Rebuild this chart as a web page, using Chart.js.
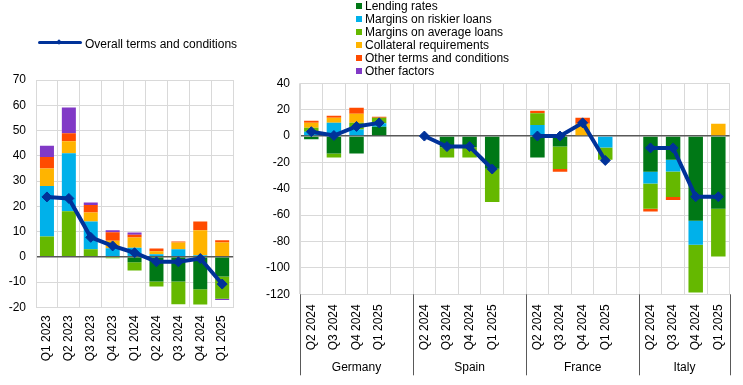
<!DOCTYPE html>
<html>
<head>
<meta charset="utf-8">
<script src="https://cdn.jsdelivr.net/npm/chart.js@4.4.1/dist/chart.umd.min.js"></script>
<style>
  body { margin: 0; background: #fff; font-family: "Liberation Sans", Arial, sans-serif; }
  #wrap { position: relative; width: 743px; height: 385px; overflow: hidden; }
  #leftChart { position: absolute; left: 0; top: 0; }
  #rightChart { position: absolute; left: 245px; top: 0; }
  .key { position: absolute; left: 356px; font-size: 12px; line-height: 13px; color: #000; white-space: nowrap; }
  .key i { display: inline-block; width: 6px; height: 6px; margin-right: 3px; vertical-align: 1px; }
  #lineKey { position: absolute; left: 38px; top: 36px; font-size: 12px; line-height: 16px; color: #000; white-space: nowrap; }
  #lineKey .bar { display: inline-block; position: relative; width: 44px; height: 3px; background: #003299; vertical-align: 4px; margin-right: 3px; border-radius: 2px; }
  #lineKey .bar::after { content: ""; position: absolute; left: 19px; top: -1px; width: 4px; height: 4px; background: #003299; transform: rotate(45deg); }
</style>
</head>
<body>
<div id="wrap">
  <canvas id="leftChart" width="245" height="385"></canvas>
  <canvas id="rightChart" width="498" height="385"></canvas>
  <div id="lineKey"><span class="bar"></span>Overall terms and conditions</div>
  <div id="keys"></div>
</div>
<script>
// --- euro area panel ---
const euroQuarters = ['Q1 2023', 'Q2 2023', 'Q3 2023', 'Q4 2023', 'Q1 2024', 'Q2 2024', 'Q3 2024', 'Q4 2024', 'Q1 2025'];
const euroLending    = [0, 0, 0, 0, -2.2, -9.8, -9.8, -12.9, -7.8];
const euroAverage    = [8, 18, 3, -0.6, -3.2, -2, -9, -6, -8.8];
const euroRiskier    = [20, 23, 11, 3.4, 3.6, 1, 3, 0.6, 0];
const euroCollateral = [7, 4.7, 3.5, 3, 4, 1.2, 2.7, 9.9, 5.7];
const euroOtherTerms = [4.5, 3.2, 3, 3.3, 1.1, 1.1, 0.4, 3.5, 0.8];
const euroOtherFact  = [4.5, 10.2, 1, 0.8, 0.9, 0, 0, 0, -0.5];
const euroOverall    = [23.7, 23.1, 7.7, 4.3, 1.6, -2, -2, -0.7, -10.8];
const euroTicks = { min: -20, max: 70, step: 10 };

// --- country panel (blank slot between countries) ---
const countries = ['Germany', 'Spain', 'France', 'Italy'];
const countryQuarters = ['Q2 2024', 'Q3 2024', 'Q4 2024', 'Q1 2025'];
const ctyLending    = [-2.5, -13.2, -13.2, 7, null, 0, -8.5, -8.5, -24.8, null, -16.3, -8, 0, 0, null, -27.1, -18, -64.3, -55.2];
const ctyRiskier    = [3.3, 10.1, 5, 2.8, null, 0, 0, 0, 0, null, 8.3, 0, 0, -8.6, null, -8.9, -8.9, -18.2, 0];
const ctyAverage    = [3, -3, 5, 4, null, 0, -7.7, -7.7, -25.2, null, 8.9, -17, 0, -9.4, null, -19.2, -19.4, -36.2, -36.2];
const ctyCollateral = [3.8, 3.8, 7, 0, null, 0, 0, 0, 0, null, 0, 0, 9.4, 0, null, 0, 0, 0, 9.4];
const ctyOtherTerms = [1.5, 1.5, 4.5, 0.8, null, 0, 0, 0, 0, null, 2, -2, 4.5, 0, null, -2, -2.1, 0, 0];
const ctyOtherFact  = [0, 0, 0, 0, null, 0, 0, 0, 0, null, 0, 0, 0, 0, null, 0, 0, 0, 0];
const ctyOverall    = [3.3, 0.4, 7.3, 10, null, 0, -8, -8, -25, null, 0, 0, 10, -18.5, null, -9, -9, -46, -46];
const ctyTicks = { min: -120, max: 40, step: 20 };

const seriesNames = ['Lending rates', 'Margins on riskier loans', 'Margins on average loans', 'Collateral requirements', 'Other terms and conditions', 'Other factors'];
const colors = {
  lending: '#007816', riskier: '#00b1ea', average: '#65b800',
  collateral: '#ffb400', otherTerms: '#ff4b00', otherFact: '#8139c6', overall: '#003299'
};

// legend on top
const keyColors = [colors.lending, colors.riskier, colors.average, colors.collateral, colors.otherTerms, colors.otherFact];
const keys = document.getElementById('keys');
seriesNames.forEach((name, i) => {
  const d = document.createElement('div');
  d.className = 'key';
  d.style.top = (0.3 + i * 12.93) + 'px';
  d.innerHTML = '<i style="background:' + keyColors[i] + '"></i>' + name;
  keys.appendChild(d);
});

const countryLabels = [];
countries.forEach((c, i) => {
  countryQuarters.forEach(q => countryLabels.push(q));
  if (i < countries.length - 1) countryLabels.push('');
});

const font = { family: '"Liberation Sans", Arial, sans-serif', size: 12 };
const gridGrey = '#d9d9d9';

function barSet(label, data, color) {
  return { type: 'bar', label, data, backgroundColor: color, stack: 'bars',
    categoryPercentage: 1, barPercentage: 0.64, order: 2 };
}
function lineSet(data) {
  return { type: 'line', label: 'Overall terms and conditions', data, stack: 'line',
    borderColor: colors.overall, backgroundColor: colors.overall, borderWidth: 4,
    pointStyle: 'rectRot', pointRadius: 5, pointHoverRadius: 5, pointBorderWidth: 1,
    spanGaps: false, tension: 0, order: 0 };
}
function yScale(t, width) {
  return {
    stacked: true, min: t.min, max: t.max,
    ticks: { stepSize: t.step, font, color: '#000', padding: 10 },
    grid: { drawTicks: false, color: c => c.tick.value === 0 ? '#595959' : gridGrey,
      lineWidth: c => c.tick.value === 0 ? 1.5 : 1 },
    border: { color: gridGrey },
    afterFit: s => { s.width = width; }
  };
}
function xScale(height, pad) {
  return {
    stacked: true,
    ticks: { font, color: '#000', minRotation: 90, maxRotation: 90, autoSkip: false, padding: pad },
    grid: { drawTicks: false, color: gridGrey, offset: true },
    border: { color: gridGrey },
    afterFit: s => { s.height = height; }
  };
}

// euro area panel
new Chart(document.getElementById('leftChart'), {
  data: {
    labels: euroQuarters,
    datasets: [
      barSet(seriesNames[0], euroLending, colors.lending),
      barSet(seriesNames[2], euroAverage, colors.average),
      barSet(seriesNames[1], euroRiskier, colors.riskier),
      barSet(seriesNames[3], euroCollateral, colors.collateral),
      barSet(seriesNames[4], euroOtherTerms, colors.otherTerms),
      barSet(seriesNames[5], euroOtherFact, colors.otherFact),
      lineSet(euroOverall)
    ]
  },
  options: {
    responsive: false, animation: false,
    layout: { padding: { top: 80, right: 7.7 } },
    plugins: { legend: { display: false }, tooltip: { enabled: false } },
    scales: { x: xScale(77.7, 8), y: yScale(euroTicks, 36) }
  }
});

// country groups under the axis
const countryGroups = {
  id: 'countryGroups',
  afterDraw(chart) {
    const xs = chart.scales.x, area = chart.chartArea, ctx = chart.ctx;
    const step = xs.getPixelForValue(1) - xs.getPixelForValue(0);
    const edges = countries.map((c, i) => xs.getPixelForValue(i * 5) - step / 2);
    edges.push(area.right);
    ctx.save();
    ctx.strokeStyle = '#595959';
    ctx.lineWidth = 1;
    edges.forEach(x => {
      ctx.beginPath();
      ctx.moveTo(Math.round(x) + 0.5, area.bottom);
      ctx.lineTo(Math.round(x) + 0.5, area.bottom + 81);
      ctx.stroke();
    });
    ctx.fillStyle = '#000';
    ctx.font = '12px "Liberation Sans", Arial, sans-serif';
    ctx.textAlign = 'center';
    ctx.textBaseline = 'middle';
    countries.forEach((c, i) => {
      ctx.fillText(c, (edges[i] + edges[i + 1]) / 2, area.bottom + 73.5);
    });
    ctx.restore();
  }
};

new Chart(document.getElementById('rightChart'), {
  data: {
    labels: countryLabels,
    datasets: [
      barSet(seriesNames[0], ctyLending, colors.lending),
      barSet(seriesNames[1], ctyRiskier, colors.riskier),
      barSet(seriesNames[2], ctyAverage, colors.average),
      barSet(seriesNames[3], ctyCollateral, colors.collateral),
      barSet(seriesNames[4], ctyOtherTerms, colors.otherTerms),
      barSet(seriesNames[5], ctyOtherFact, colors.otherFact),
      lineSet(ctyOverall)
    ]
  },
  options: {
    responsive: false, animation: false,
    layout: { padding: { top: 83.3, right: 10.7 } },
    plugins: { legend: { display: false }, tooltip: { enabled: false } },
    scales: { x: xScale(90.7, 10), y: yScale(ctyTicks, 55) }
  },
  plugins: [countryGroups]
});
</script>
</body>
</html>
